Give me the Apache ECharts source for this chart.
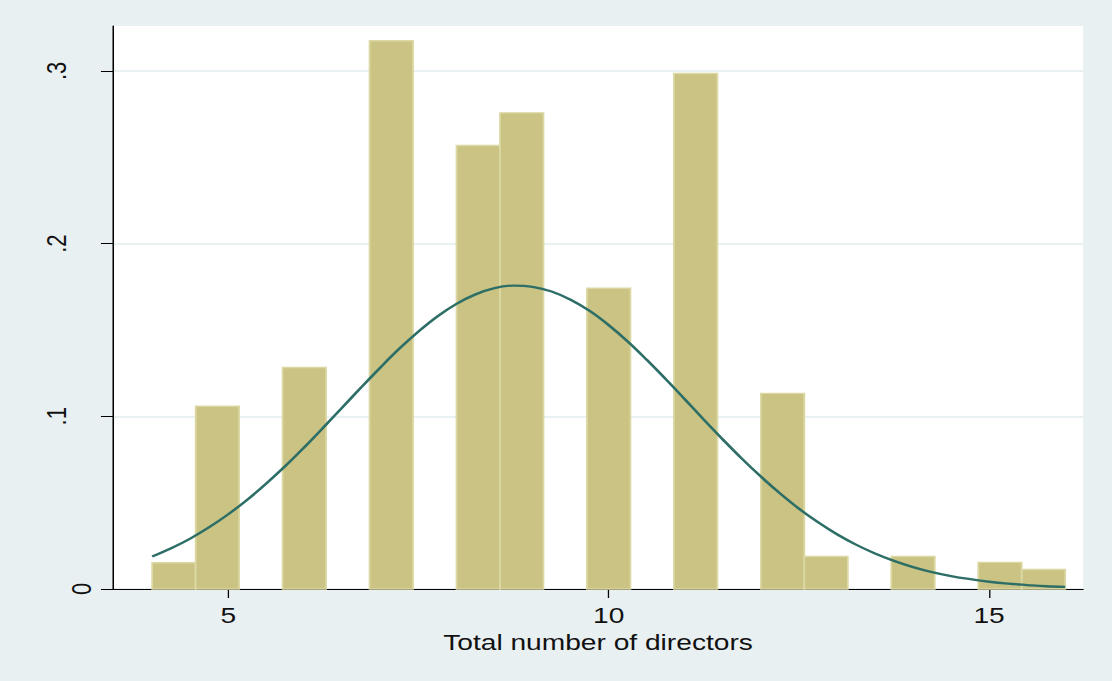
<!DOCTYPE html>
<html>
<head>
<meta charset="utf-8">
<script src="https://cdn.jsdelivr.net/npm/echarts@6/dist/echarts.min.js"></script>
<style>
  html, body { margin: 0; padding: 0; background: #e9f0f2; overflow: hidden; }
  #wrap { width: 1112px; height: 681px; position: relative; overflow: hidden; background: #e9f0f2; }
  /* the chart is laid out narrower and stretched wide, giving the broad lettering */
  #chart { position: absolute; left: 0; top: 0; width: 869px; height: 681px;
           transform: scaleX(1.27963); transform-origin: 0 0; }
</style>
</head>
<body>
<div id="wrap"><div id="chart"></div></div>
<script>
// Histogram bins (21 bins of equal width from 4 to 16) and their densities
const binEdges = [4, 4.5714, 5.1429, 5.7143, 6.2857, 6.8571, 7.4286, 8, 8.5714, 9.1429,
                  9.7143, 10.2857, 10.8571, 11.4286, 12, 12.5714, 13.1429, 13.7143,
                  14.2857, 14.8571, 15.4286, 16];
const density = [0.0152, 0.1058, 0, 0.1283, 0, 0.3175, 0, 0.2568, 0.2757, 0,
                 0.1742, 0, 0.2985, 0, 0.1133, 0.0188, 0, 0.0188, 0, 0.0154, 0.0113];

// Normal density curve, sampled every quarter unit
const curveX = [4, 4.25, 4.5, 4.75, 5, 5.25, 5.5, 5.75, 6, 6.25, 6.5, 6.75, 7, 7.25, 7.5, 7.75,
                8, 8.25, 8.5, 8.75, 9, 9.25, 9.5, 9.75, 10, 10.25, 10.5, 10.75, 11, 11.25,
                11.5, 11.75, 12, 12.25, 12.5, 12.75, 13, 13.25, 13.5, 13.75, 14, 14.25,
                14.5, 14.75, 15, 15.25, 15.5, 15.75, 16];
const curveY = [0.0188, 0.0236, 0.0292, 0.0358, 0.0433, 0.0517, 0.0611, 0.0712, 0.0821,
                0.0935, 0.1052, 0.1169, 0.1283, 0.1392, 0.1491, 0.1579, 0.1651, 0.1706,
                0.1742, 0.1757, 0.1750, 0.1723, 0.1675, 0.1610, 0.1528, 0.1433, 0.1327,
                0.1215, 0.1099, 0.0981, 0.0866, 0.0755, 0.0651, 0.0554, 0.0465, 0.0387,
                0.0317, 0.0257, 0.0206, 0.0163, 0.0127, 0.0098, 0.0075, 0.0057, 0.0042,
                0.0031, 0.0023, 0.0016, 0.0012];

// Axis ticks and labels
const xTicks = [5, 10, 15];
const yTicks = [0, 0.1, 0.2, 0.3];
const yTickLabels = ['0', '.1', '.2', '.3'];
const xTitle = 'Total number of directors';

const barData = [];
for (let i = 0; i < density.length; i++) {
  if (density[i] > 0) barData.push([binEdges[i], binEdges[i + 1], density[i]]);
}
const lineData = curveX.map((x, i) => [x, curveY[i]]);

const FONT = '"Liberation Sans", Arial, sans-serif';

const chart = echarts.init(document.getElementById('chart'), null, { renderer: 'svg' });
chart.setOption({
  animation: false,
  backgroundColor: '#e9f0f2',
  grid: {
    left: 88.3, right: 22.6, top: 26, bottom: 92,
    show: true, backgroundColor: '#ffffff', borderWidth: 0
  },
  xAxis: {
    type: 'value',
    min: 3.485, max: 16.235,
    name: xTitle,
    nameLocation: 'middle',
    nameGap: 36,
    nameTextStyle: { fontFamily: FONT, fontSize: 22, color: '#111' },
    axisLine: { show: true, onZero: false, lineStyle: { color: '#000', width: 1.2 } },
    axisTick: { show: true, length: 9, customValues: xTicks, lineStyle: { color: '#000', width: 1 } },
    axisLabel: { customValues: xTicks, margin: 15, fontFamily: FONT, fontSize: 22, color: '#111' },
    splitLine: { show: false }
  },
  yAxis: {
    type: 'value',
    min: 0, max: 0.326, interval: 0.1,
    axisLine: { show: true, lineStyle: { color: '#000', width: 1.2 } },
    axisTick: { show: true, length: 9.4, customValues: yTicks, lineStyle: { color: '#000', width: 1 } },
    axisLabel: {
      customValues: yTicks,
      rotate: 90,
      margin: 14,
      fontFamily: FONT, fontSize: 22, color: '#111',
      formatter: function (v) {
        const idx = Math.round(v * 10);
        const txt = yTickLabels[idx];
        return idx === 0 ? '{z|' + txt + '}' : '{d|' + txt + '}';
      },
      rich: {
        z: { fontFamily: FONT, fontSize: 22, color: '#111' },
        d: { fontFamily: FONT, fontSize: 22, color: '#111', padding: [0, 0, 19.5, 0] }
      }
    },
    splitLine: { show: true, lineStyle: { color: '#e3ecef', width: 1.6 } }
  },
  series: [
    {
      type: 'custom',
      name: 'Density',
      data: barData,
      encode: { x: [0, 1], y: 2 },
      z: 2,
      renderItem: function (params, api) {
        const p0 = api.coord([api.value(0), api.value(2)]);
        const p1 = api.coord([api.value(1), 0]);
        return {
          type: 'rect',
          shape: { x: p0[0], y: p0[1], width: p1[0] - p0[0], height: p1[1] - p0[1] },
          style: { fill: '#cac383', stroke: '#dcd8a4', lineWidth: 1.4 }
        };
      }
    },
    {
      type: 'line',
      name: 'Normal density',
      data: lineData,
      smooth: 0.4,
      symbol: 'none',
      z: 3,
      lineStyle: { color: '#2d6e67', width: 2.3 }
    }
  ]
});
</script>
</body>
</html>
